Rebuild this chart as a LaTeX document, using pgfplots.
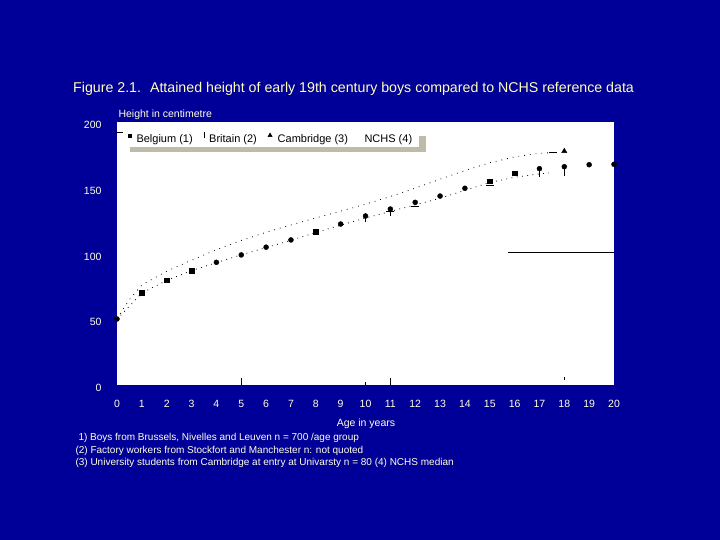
\documentclass[border=0pt]{standalone}
\usepackage{pgfplots}
\pgfplotsset{compat=1.18}
\usepackage{fontspec}
\setmainfont{Liberation Sans}
\usetikzlibrary{shadows}

\definecolor{slidebg}{RGB}{0,0,153}
\definecolor{cream}{RGB}{255,255,225}
\definecolor{titleyel}{RGB}{255,255,185}
\definecolor{shadowgrey}{RGB}{190,188,168}

\begin{document}
\begin{tikzpicture}
\fill[slidebg] (0,0) rectangle (720bp,540bp);

\begin{axis}[
    at={(117bp,155bp)}, anchor=south west,
    scale only axis,
    width=497bp, height=263bp,
    xmin=0, xmax=20, ymin=0, ymax=200,
    xtick={0,1,...,20}, ytick={0,50,100,150,200},
    axis line style={draw=none},
    major tick length=0pt,
    axis background/.style={fill=white},
    ticklabel style={font=\fontsize{10.5bp}{12bp}\selectfont, text=cream},
    /pgf/number format/assume math mode=true,
    xticklabel style={yshift=-12bp},
    yticklabel style={xshift=-12bp, yshift=-3bp},
    clip=false,
    legend columns=4,
    legend style={
        at={(axis cs:0.25,193)}, anchor=north west,
        draw=none, fill=white,
        font=\fontsize{11bp}{12bp}\selectfont,
        inner xsep=5bp, inner ysep=1bp,
        drop shadow={shadow xshift=7bp, shadow yshift=-5bp, fill=shadowgrey, opacity=1},
        /tikz/every odd column/.append style={column sep=3.5bp},
        /tikz/every even column/.append style={column sep=9bp},
    },
    legend image code/.code={\draw[#1] plot coordinates {(0.1cm,0.13cm)};},
]

% legend entries
\addlegendimage{only marks, mark=square*, mark size=1.3bp, black}
\addlegendentry{Belgium (1)}
\addlegendimage{only marks, mark=|, mark size=3bp, black}
\addlegendentry{Britain (2)}
\addlegendimage{only marks, mark=triangle*, mark size=2.5bp, black}
\addlegendentry{Cambridge (3)}
\addlegendimage{empty legend}
\addlegendentry{NCHS (4)}

% NCHS median (upper dotted)
\addplot[black, line width=0.8bp, dash pattern=on 0.8bp off 5bp, forget plot] coordinates {
(0,50.5)(0.5,65)(1,76.1)(2,86.5)(3,94.9)(4,102.9)(5,109.9)(6,116.1)(7,121.7)
(8,127.0)(9,132.2)(10,137.5)(11,143.3)(12,149.7)(13,156.5)(14,163.1)
(15,169.0)(16,173.5)(17,176.2)(17.5,176.7)};

% lower dotted line
\addplot[black, line width=0.8bp, dash pattern=on 0.8bp off 4.5bp, forget plot] coordinates {
(0,50)(0.5,60)(1,70)(2,79.5)(3,87)(4,93)(5,99)(6,104.5)(7,110)(8,116)
(9,121.5)(10,127)(11,132)(12,137)(13,142)(14,148)(15,154)(16,158)
(17,160.5)(17.5,161.5)};

% Belgium squares
\addplot[only marks, mark=square*, mark size=2.2bp, black, forget plot] coordinates {
(1,70.2)(2,79.8)(3,86.8)(8,116.6)(15,155.1)(16,161)};

% Belgium circles
\addplot[only marks, mark=*, mark size=2.5bp, black, forget plot] coordinates {
(0,50.2)(4,93.3)(5,98.9)(6,104.8)(7,110.3)(9,122.4)(10,128.5)(11,133.8)
(12,138.9)(13,143.7)(14,149.6)(17,164.5)(18,166)(19,167.5)(20,167.8)};

% Britain bars
\addplot[only marks, mark=|, mark size=4.5bp, line width=1bp, black, forget plot] coordinates {
(10,127.4)(11,131.6)(17,161.3)(18,162.4)};

% short dashes
\addplot[only marks, mark=-, mark size=4bp, line width=1bp, black, forget plot] coordinates {
(11,131.8)(12,136)(15,152)(17.55,176.6)(0.1,192)};

% Cambridge
\addplot[only marks, mark=triangle*, mark size=3bp, black, forget plot] coordinates {
(18,177.8)};

% stray horizontal line
\addplot[black, line width=1bp, forget plot] coordinates {(15.75,100.4)(20,100.4)};

% small ticks at the bottom
\addplot[only marks, mark=|, mark size=3.5bp, line width=0.8bp, black, forget plot] coordinates {
(5,2.7)(11,2.7)};
\addplot[only marks, mark=|, mark size=1.5bp, line width=0.8bp, black, forget plot] coordinates {
(10,1)(18,5)};
\end{axis}

\node[anchor=west, text=titleyel, font=\fontsize{14.2bp}{16bp}\selectfont, inner sep=0pt] at (73bp,451bp)
  {Figure 2.1.\hspace{9bp}Attained height of early 19th century boys compared to NCHS reference data};
\node[anchor=west, text=cream, font=\fontsize{10.5bp}{12bp}\selectfont] at (115bp,425bp)
  {Height in centimetre};
\node[text=cream, font=\fontsize{10.5bp}{12bp}\selectfont] at (366bp,116bp)
  {Age in years};
\node[anchor=west, text=cream, font=\fontsize{10bp}{12bp}\selectfont] at (75bp,102bp)
  {1) Boys from Brussels, Nivelles and Leuven n = 700 /age group};
\node[anchor=west, text=cream, font=\fontsize{10bp}{12bp}\selectfont] at (72bp,89bp)
  {(2) Factory workers from Stockfort and Manchester n: not quoted};
\node[anchor=west, text=cream, font=\fontsize{10bp}{12bp}\selectfont] at (72bp,77bp)
  {(3) University students from Cambridge at entry at Univarsty n = 80 (4) NCHS median};
\end{tikzpicture}
\end{document}
